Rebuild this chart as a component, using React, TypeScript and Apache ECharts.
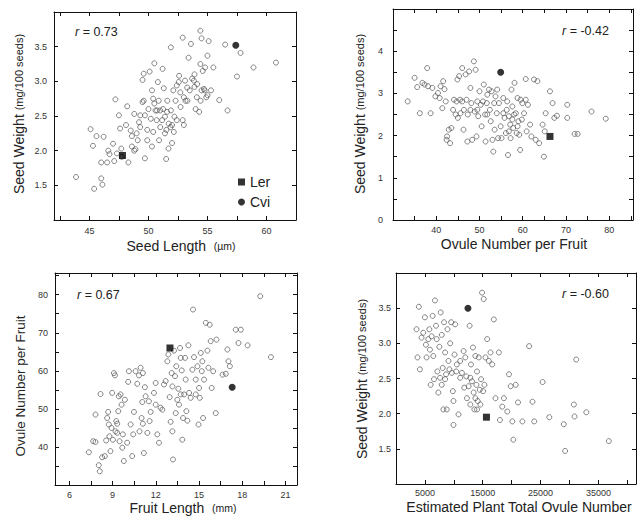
import { useEffect, useRef } from 'react';
import * as echarts from 'echarts';

// Panel A: seed length (µm) vs seed weight (mg/100 seeds)
const seedLengthVsWeight: [number, number][] = [
  [43.87, 1.62], [45.1, 2.31], [45.3, 2.07], [45.6, 2.21], [45.4, 1.45], [46.0, 1.6], [46.1, 1.51],
  [46.0, 1.83], [46.2, 2.2], [46.5, 1.83], [46.6, 2.0], [46.7, 1.95], [47.0, 2.1], [47.2, 2.74],
  [47.1, 1.85], [47.5, 2.51], [47.6, 2.32], [47.7, 2.03], [48.2, 2.64], [48.1, 2.37], [48.3, 1.83],
  [48.5, 2.29], [48.6, 2.06], [48.8, 2.53], [48.9, 2.02], [49.0, 2.25], [49.2, 2.41], [49.3, 2.34],
  [49.5, 2.7], [49.5, 3.02], [49.7, 1.89], [49.6, 3.11], [49.7, 2.51], [49.9, 2.15], [49.9, 2.3],
  [50.0, 2.6], [50.1, 3.14], [50.2, 2.46], [50.3, 2.06], [50.4, 2.75], [50.4, 2.27], [50.5, 3.26],
  [50.6, 2.58], [50.7, 2.44], [50.8, 2.99], [50.9, 2.15], [51.0, 2.34], [51.0, 2.58], [51.2, 3.18],
  [51.3, 2.9], [51.4, 2.25], [51.4, 2.49], [51.5, 1.88], [51.6, 2.72], [51.7, 2.03], [51.9, 2.58],
  [51.9, 3.49], [52.0, 2.11], [52.0, 2.37], [52.1, 2.87], [52.2, 2.49], [52.3, 2.72], [52.4, 2.94],
  [52.4, 2.44], [52.6, 3.08], [52.7, 2.84], [52.9, 3.63], [52.9, 2.44], [53.0, 2.37], [53.0, 2.77],
  [53.1, 3.01], [53.3, 2.72], [53.4, 3.34], [53.5, 2.87], [53.6, 3.54], [53.7, 3.04], [53.9, 2.92],
  [53.9, 3.1], [54.0, 2.6], [54.1, 2.77], [54.3, 2.56], [54.4, 3.25], [54.4, 3.73], [54.5, 3.62],
  [54.5, 2.87], [54.6, 3.15], [54.7, 2.89], [54.8, 3.2], [55.0, 3.37], [55.0, 2.8], [55.1, 3.58],
  [55.3, 2.87], [55.5, 3.2], [56.0, 2.73], [56.5, 3.53], [56.7, 2.58], [57.5, 3.07], [57.8, 3.41],
  [58.9, 3.2], [60.8, 3.27], [50.73, 2.58], [51.24, 2.6], [51.58, 2.56], [51.72, 2.39], [51.87, 2.34],
  [50.87, 2.72], [50.3, 2.87], [49.6, 2.72], [49.31, 2.51], [49.09, 2.15], [50.5, 2.68], [51.16, 2.44],
  [51.52, 2.3], [52.15, 2.27], [52.72, 2.63], [52.57, 2.99], [53.14, 2.72], [53.28, 2.91], [53.85, 3.01],
  [54.13, 2.96], [54.42, 2.72], [54.76, 2.87], [54.9, 2.77], [48.6, 2.21], [48.8, 2.0], [47.33, 1.96],
  [47.75, 1.91],
];

// Panel B: ovule number per fruit vs seed weight
const ovulesVsWeight: [number, number][] = [
  [33.4, 2.81], [35.0, 3.37], [35.6, 3.15], [36.2, 2.53], [36.8, 3.25], [37.3, 3.21], [37.9, 3.6],
  [38.1, 3.17], [38.7, 2.53], [39.1, 3.13], [39.8, 2.93], [40.4, 3.01], [40.8, 2.89], [41.4, 2.65],
  [41.6, 3.29], [41.9, 3.1], [42.2, 2.81], [42.4, 1.9], [42.5, 1.98], [42.9, 2.14], [43.2, 1.82],
  [43.5, 2.18], [43.9, 2.61], [44.1, 2.85], [44.5, 2.5], [44.9, 3.33], [45.0, 2.42], [45.3, 3.41],
  [45.5, 2.85], [45.6, 2.53], [46.0, 3.6], [46.3, 2.14], [46.4, 2.61], [46.8, 3.45], [47.0, 2.85],
  [47.2, 1.86], [47.3, 2.5], [47.6, 3.52], [47.9, 3.13], [48.1, 2.77], [48.3, 1.9], [48.7, 3.76],
  [48.9, 2.57], [49.1, 3.56], [49.3, 1.98], [49.5, 2.81], [49.7, 2.46], [50.0, 3.05], [50.3, 2.73],
  [50.5, 2.22], [50.8, 2.81], [51.0, 3.21], [51.3, 2.5], [51.4, 1.86], [51.7, 2.77], [51.8, 2.97],
  [52.2, 3.09], [52.4, 2.61], [52.6, 2.34], [52.8, 3.05], [53.0, 1.9], [53.2, 1.62], [53.4, 2.77],
  [53.5, 2.14], [53.7, 2.93], [54.0, 2.53], [54.3, 1.94], [54.5, 2.77], [54.9, 2.22], [55.1, 1.94],
  [55.5, 2.53], [55.8, 2.42], [56.1, 2.06], [56.3, 2.61], [56.6, 1.54], [56.8, 2.46], [57.1, 2.26],
  [57.2, 1.94], [57.4, 3.09], [57.6, 2.38], [57.8, 2.18], [58.1, 3.25], [58.4, 2.53], [58.6, 2.06],
  [58.8, 2.89], [59.0, 2.34], [59.2, 2.02], [59.4, 1.66], [59.5, 2.85], [59.8, 2.38], [59.9, 2.77],
  [60.3, 2.53], [60.7, 3.34], [60.9, 2.1], [61.2, 2.73], [61.7, 2.26], [62.0, 1.98], [62.6, 3.33],
  [63.0, 1.9], [63.4, 3.29], [63.8, 1.82], [64.6, 2.26], [64.9, 1.5], [65.1, 2.1], [65.3, 2.53],
  [66.3, 3.05], [66.9, 2.77], [67.3, 2.42], [67.9, 2.47], [70.3, 2.42], [70.3, 2.73], [72.0, 2.04],
  [72.7, 2.04], [75.9, 2.57], [79.2, 2.4], [55.5, 2.89], [56.4, 2.81], [57.6, 2.69], [58.0, 2.5],
  [58.8, 2.22], [56.8, 2.1], [54.1, 3.09], [51.8, 2.5], [49.5, 2.61], [47.9, 2.61], [46.0, 2.81],
  [44.7, 2.81], [41.0, 3.17], [60.7, 2.85],
];

// Panel C: fruit length (mm) vs ovule number per fruit
const fruitLengthVsOvules: [number, number][] = [
  [7.35, 38.6], [7.65, 41.5], [7.81, 48.5], [7.81, 41.3], [8.04, 35.2], [8.11, 33.6], [8.16, 53.9],
  [8.27, 37.3], [8.46, 37.6], [8.55, 41.7], [8.69, 49.2], [8.74, 45.9], [8.78, 42.8], [8.85, 38.9],
  [8.92, 45.0], [8.97, 54.2], [9.02, 41.9], [9.09, 59.4], [9.16, 58.8], [9.2, 44.1], [9.25, 46.8],
  [9.32, 43.7], [9.39, 49.4], [9.43, 53.3], [9.48, 41.5], [9.55, 53.8], [9.62, 51.1], [9.67, 39.8],
  [9.71, 43.3], [9.78, 36.3], [9.85, 52.4], [10.01, 41.1], [10.08, 57.1], [10.13, 59.9], [10.25, 45.9],
  [10.36, 37.6], [10.43, 43.3], [10.48, 49.2], [10.59, 59.9], [10.71, 56.6], [10.83, 58.8], [10.87, 44.1],
  [10.94, 60.8], [11.01, 47.6], [11.06, 51.8], [11.1, 59.4], [11.17, 38.4], [11.24, 55.7], [11.29, 53.3],
  [11.41, 43.7], [11.52, 52.0], [11.57, 46.8], [11.64, 49.2], [11.87, 54.2], [11.99, 56.8], [12.1, 43.3],
  [12.22, 41.1], [12.33, 50.3], [12.45, 49.8], [12.57, 56.4], [12.68, 57.3], [12.8, 62.5], [12.87, 64.3],
  [12.96, 53.1], [13.03, 46.6], [13.1, 59.4], [13.15, 55.9], [13.19, 36.7], [13.26, 65.3], [13.33, 58.6],
  [13.38, 48.9], [13.42, 61.2], [13.49, 52.4], [13.56, 55.3], [13.61, 51.1], [13.68, 66.0], [13.73, 53.8],
  [13.8, 60.1], [13.84, 41.9], [13.89, 47.6], [13.96, 53.8], [14.03, 63.4], [14.07, 57.7], [14.12, 49.4],
  [14.19, 46.9], [14.26, 66.7], [14.31, 54.2], [14.42, 52.9], [14.54, 60.3], [14.58, 76.1], [14.65, 63.6],
  [14.77, 57.7], [14.89, 61.2], [14.96, 45.9], [15.0, 55.5], [15.05, 52.9], [15.12, 64.7], [15.19, 59.9],
  [15.28, 47.6], [15.35, 57.7], [15.47, 72.6], [15.58, 65.3], [15.65, 60.8], [15.74, 72.1], [15.81, 67.8],
  [15.88, 55.5], [15.98, 59.9], [16.16, 48.9], [16.21, 68.2], [16.63, 59.0], [16.86, 59.2], [16.97, 65.6],
  [17.04, 62.5], [17.14, 61.2], [17.55, 70.8], [17.74, 67.3], [17.9, 70.8], [18.37, 66.7], [19.25, 79.6],
  [19.99, 63.6], [13.15, 44.1], [13.73, 63.4], [14.77, 53.8], [15.23, 62.5], [11.99, 51.1], [11.1, 46.1],
  [9.32, 46.1], [8.62, 47.6],
];

// Panel D: estimated plant total ovule number vs seed weight
const totalOvulesVsWeight: [number, number][] = [
  [3950, 3.52], [3550, 3.2], [3720, 2.8], [4130, 2.63], [4420, 3.08], [4710, 3.15], [5000, 3.37],
  [5170, 2.98], [5290, 2.8], [5580, 3.06], [5760, 3.2], [5870, 2.91], [5990, 2.41], [6160, 3.1],
  [6340, 3.39], [6450, 2.82], [6570, 2.49], [6740, 3.61], [6920, 3.25], [7040, 3.06], [7150, 2.6],
  [7330, 2.3], [7500, 2.95], [7620, 2.51], [7730, 3.44], [7910, 3.12], [8080, 2.65], [8200, 2.06],
  [8310, 3.3], [8490, 2.87], [8660, 2.56], [8780, 2.06], [8900, 3.2], [9070, 2.75], [9240, 2.63],
  [9360, 3.0], [9540, 3.3], [9650, 2.58], [9830, 2.32], [9940, 2.18], [9940, 1.84], [10120, 2.84],
  [10230, 3.27], [10410, 2.6], [10520, 2.7], [10810, 1.99], [11100, 2.75], [11400, 2.58], [11690, 2.89],
  [11800, 2.37], [11980, 2.8], [12150, 2.53], [12270, 2.22], [12560, 2.39], [12730, 3.25], [12850, 2.13],
  [12970, 2.7], [13140, 2.46], [13310, 2.94], [13430, 2.3], [13550, 2.06], [13720, 2.82], [13900, 2.41],
  [14010, 2.6], [14130, 2.18], [14300, 2.8], [14480, 2.34], [14590, 2.13], [14710, 2.49], [14880, 3.72],
  [15060, 2.32], [15170, 3.63], [15290, 2.41], [15470, 2.8], [15760, 3.06], [16050, 2.75], [16340, 2.87],
  [16630, 2.7], [16920, 3.34], [17210, 2.22], [17790, 2.87], [17970, 1.91], [18370, 2.1], [18660, 2.22],
  [19240, 2.03], [19540, 2.56], [19830, 2.39], [20120, 1.89], [20290, 1.63], [20700, 2.41], [21100, 2.16],
  [21860, 1.89], [23020, 2.96], [23600, 2.17], [23900, 1.89], [25350, 2.45], [26510, 1.95], [29010, 1.85],
  [29240, 1.47], [30760, 2.13], [30870, 1.96], [31160, 2.77], [32910, 2.02], [36800, 1.61], [14010, 2.06],
  [13720, 2.22], [8490, 2.49], [7910, 2.41], [12850, 2.51], [11100, 2.51],
];

// Parental lines, one point per panel
const lerPoints: [number, number][] = [[47.8, 1.93], [66.3, 1.98], [12.98, 66.0], [15640, 1.95]];
const cviPoints: [number, number][] = [[57.4, 3.52], [54.9, 3.5], [17.3, 55.7], [12440, 3.5]];

const rValues = ['0.73', '-0.42', '0.67', '-0.60'];

// Axis tick labels
const xLabelsA = [45, 50, 55, 60];
const yLabelsA = [1.5, 2.0, 2.5, 3.0, 3.5];
const xLabelsB = [40, 50, 60, 70, 80];
const yLabelsB = [0, 1, 2, 3, 4];
const xLabelsC = [6, 9, 12, 15, 18, 21];
const yLabelsC = [40, 50, 60, 70, 80];
const xLabelsD = [5000, 15000, 25000, 35000];
const yLabelsD = [1.5, 2.0, 2.5, 3.0, 3.5];

const xTicksA = [42.5, 45, 47.5, 50, 52.5, 55, 57.5, 60, 62.5];
const yTicksA = [1.5, 2.0, 2.5, 3.0, 3.5];
const xTicksB = [35, 40, 45, 50, 55, 60, 65, 70, 75, 80, 85];
const yTicksB = [0.5, 1, 1.5, 2, 2.5, 3, 3.5, 4, 4.5];
const xTicksC = [6, 7.5, 9, 10.5, 12, 13.5, 15, 16.5, 18, 19.5, 21];
const yTicksC = [35, 40, 45, 50, 55, 60, 65, 70, 75, 80, 85];
const xTicksD = [5000, 10000, 15000, 20000, 25000, 30000, 35000, 40000];
const yTicksD = [1.5, 2.0, 2.5, 3.0, 3.5];

const FONT = '"Liberation Sans", Arial, Helvetica, sans-serif';

export default function App() {
  const ref = useRef<HTMLDivElement>(null);

  useEffect(() => {
    if (!ref.current) return;
    const chart = echarts.init(ref.current, undefined, { renderer: 'svg' });

    const grids = [
      { left: 54, top: 12, width: 242, height: 208 },
      { left: 393, top: 9, width: 240, height: 211 },
      { left: 55, top: 273, width: 242, height: 212 },
      { left: 396, top: 273, width: 240, height: 211 },
    ];
    const xRanges = [[42, 62.5], [30, 85.5], [5, 21.8], [0, 41500]];
    const yRanges = [[1, 4], [0, 5], [30, 85.7], [1, 4]];
    const xLabels = [xLabelsA, xLabelsB, xLabelsC, xLabelsD];
    const yLabels = [yLabelsA, yLabelsB, yLabelsC, yLabelsD];
    const xTicks = [xTicksA, xTicksB, xTicksC, xTicksD];
    const yTicks = [yTicksA, yTicksB, yTicksC, yTicksD];
    const xMargins = [6, 5, 5, 4];
    const yMargins = [7, 10, 7, 5];
    const yFormat = [
      (v: number) => v.toFixed(1),
      (v: number) => String(v),
      (v: number) => String(v),
      (v: number) => v.toFixed(1),
    ];

    const lineStyle = { color: '#111', width: 1 };
    const tickStyle = { inside: true, length: 4, lineStyle: { color: '#111', width: 1 } };
    const labelStyle = { fontSize: 9, color: '#333', fontFamily: FONT };

    const xAxis: any[] = [];
    const yAxis: any[] = [];
    for (let i = 0; i < 4; i++) {
      xAxis.push({
        type: 'value', gridIndex: i, position: 'bottom', min: xRanges[i][0], max: xRanges[i][1],
        axisLine: { show: true, onZero: false, lineStyle },
        axisTick: { show: true, ...tickStyle, customValues: xTicks[i] },
        axisLabel: { show: true, ...labelStyle, margin: xMargins[i], customValues: xLabels[i], formatter: (v: number) => String(v) },
        splitLine: { show: false },
      });
      yAxis.push({
        type: 'value', gridIndex: i, position: 'left', min: yRanges[i][0], max: yRanges[i][1],
        axisLine: { show: true, onZero: false, lineStyle },
        axisTick: { show: true, ...tickStyle, customValues: yTicks[i] },
        axisLabel: { show: true, ...labelStyle, margin: yMargins[i], customValues: yLabels[i], formatter: yFormat[i] },
        splitLine: { show: false },
      });
    }
    for (let i = 0; i < 4; i++) {
      xAxis.push({
        type: 'value', gridIndex: i, position: 'top', min: xRanges[i][0], max: xRanges[i][1],
        axisLine: { show: true, onZero: false, lineStyle },
        axisTick: { show: true, ...tickStyle, customValues: xTicks[i] },
        axisLabel: { show: false },
        splitLine: { show: false },
      });
      yAxis.push({
        type: 'value', gridIndex: i, position: 'right', min: yRanges[i][0], max: yRanges[i][1],
        axisLine: { show: true, onZero: false, lineStyle },
        axisTick: { show: true, ...tickStyle, customValues: yTicks[i] },
        axisLabel: { show: false },
        splitLine: { show: false },
      });
    }

    const panels = [seedLengthVsWeight, ovulesVsWeight, fruitLengthVsOvules, totalOvulesVsWeight];
    const series: any[] = [];
    panels.forEach((pts, i) => {
      series.push({
        type: 'scatter', name: 'accessions', xAxisIndex: i, yAxisIndex: i, data: pts,
        symbol: 'circle', symbolSize: 5,
        itemStyle: { color: 'rgba(255,255,255,0)', borderColor: '#555', borderWidth: 0.9 },
        silent: true,
      });
      series.push({
        type: 'scatter', name: 'Ler', xAxisIndex: i, yAxisIndex: i, data: [lerPoints[i]],
        symbol: 'rect', symbolSize: 7, itemStyle: { color: '#000' }, z: 5,
      });
      series.push({
        type: 'scatter', name: 'Cvi', xAxisIndex: i, yAxisIndex: i, data: [cviPoints[i]],
        symbol: 'circle', symbolSize: 7, itemStyle: { color: '#000' }, z: 5,
      });
    });

    const titleRich = (big: number, small: number) => ({
      a: { fontSize: big, fontFamily: FONT, fill: '#222', color: '#222' },
      b: { fontSize: small, fontFamily: FONT, fill: '#222', color: '#222' },
    });
    const rRich = {
      i: { fontSize: 12.5, fontFamily: FONT, fontStyle: 'italic', fill: '#222', color: '#222' },
      n: { fontSize: 12.5, fontFamily: FONT, fill: '#222', color: '#222' },
    };
    const textEl = (x: number, y: number, text: string, rich: any, rotation = 0, align = 'center') => ({
      type: 'text', x, y, rotation, silent: true,
      style: {
        text, rich, fontFamily: FONT, fontSize: 14, fill: '#222',
        align, verticalAlign: 'middle', textAlign: align, textVerticalAlign: 'middle',
      },
    });

    const graphic = [
      // y-axis titles
      textEl(19, 114, '{a|Seed Weight} {b|(mg/100 seeds)}', titleRich(14, 11), Math.PI / 2),
      textEl(360, 114, '{a|Seed Weight} {b|(mg/100 seeds)}', titleRich(14, 11), Math.PI / 2),
      textEl(20, 386, '{a|Ovule Number per Fruit}', titleRich(13.5, 11), Math.PI / 2),
      textEl(362, 379, '{a|Seed Weight} {b|(mg/100 seeds)}', titleRich(14, 11), Math.PI / 2),
      // x-axis titles
      textEl(181, 246, '{a|Seed Length}  {b|(µm)}', titleRich(14, 10.5)),
      textEl(514, 244, '{a|Ovule Number per Fruit}', titleRich(14, 11)),
      textEl(183, 508, '{a|Fruit Length}  {b|(mm)}', titleRich(14, 10.5)),
      textEl(519, 507, '{a|Estimated Plant Total Ovule Number}', titleRich(14, 11)),
      // correlation coefficients
      textEl(75, 32, `{i|r}{n| = ${rValues[0]}}`, rRich, 0, 'left'),
      textEl(562, 31, `{i|r}{n| = ${rValues[1]}}`, rRich, 0, 'left'),
      textEl(77, 295, `{i|r}{n| = ${rValues[2]}}`, rRich, 0, 'left'),
      textEl(562, 294, `{i|r}{n| = ${rValues[3]}}`, rRich, 0, 'left'),
    ];

    chart.setOption({
      animation: false,
      backgroundColor: '#fff',
      textStyle: { fontFamily: FONT },
      grid: grids.map((g) => ({ ...g, containLabel: false, show: false })),
      xAxis,
      yAxis,
      series,
      legend: {
        show: true,
        data: [{ name: 'Ler', icon: 'rect' }, { name: 'Cvi', icon: 'circle' }],
        orient: 'vertical',
        left: 233,
        top: 170,
        itemWidth: 7,
        itemHeight: 7,
        itemGap: 6,
        selectedMode: false,
        textStyle: { fontSize: 14, color: '#222', fontFamily: FONT },
        itemStyle: { color: '#000' },
      },
      graphic,
    });

    return () => chart.dispose();
  }, []);

  return (
    <div
      ref={ref}
      style={{ position: 'absolute', left: 0, top: 0, width: 642, height: 516, background: '#fff' }}
    />
  );
}
